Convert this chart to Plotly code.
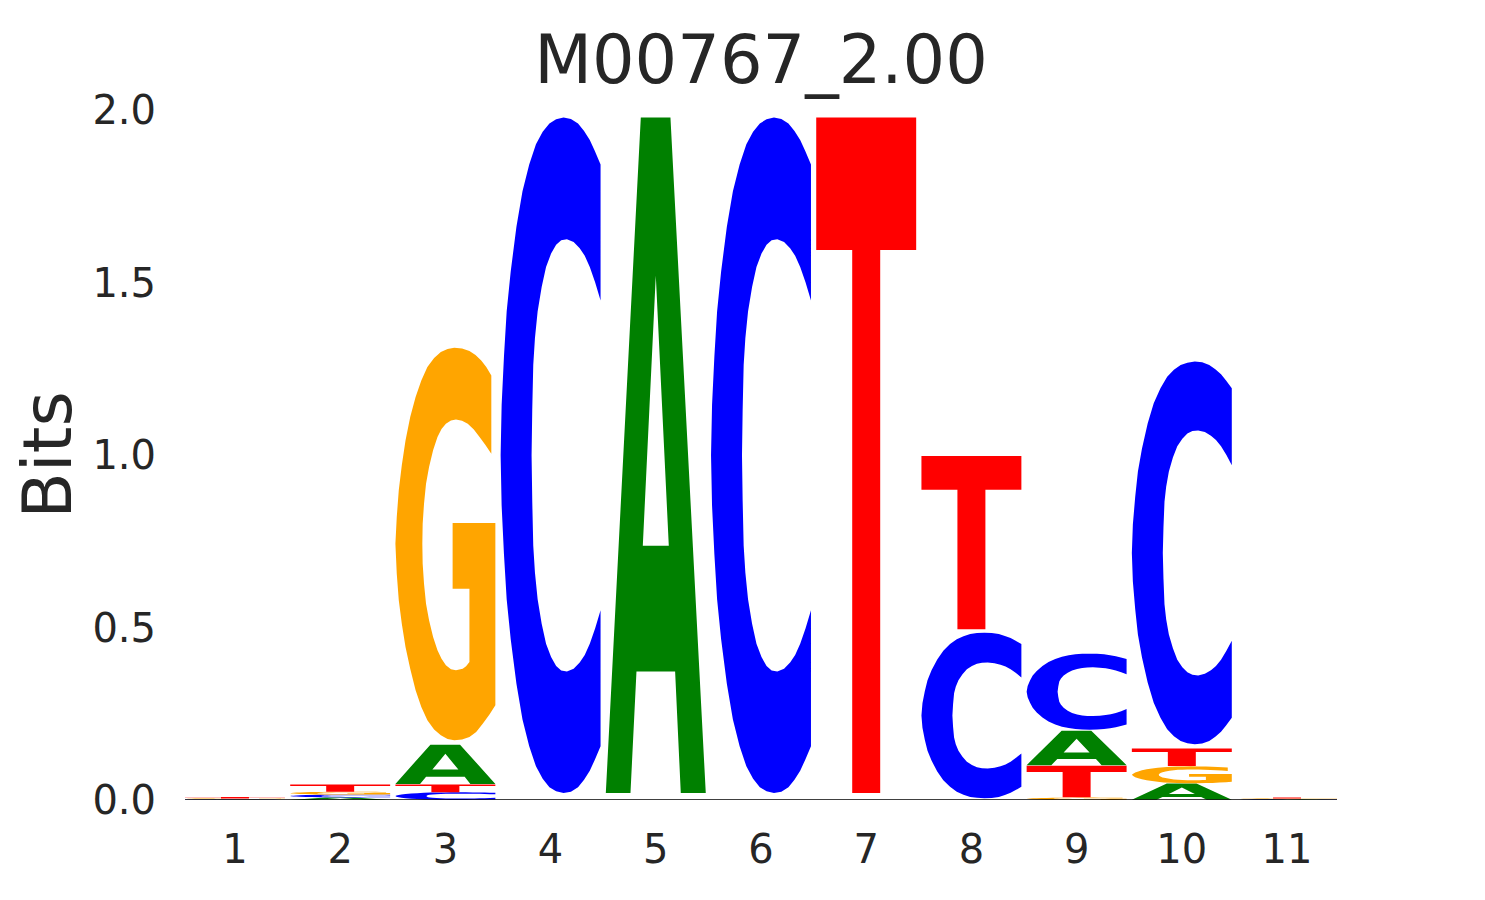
import plotly.graph_objects as go

# ---------------- data ----------------
title_text = "M00767_2.00"
positions = [1, 2, 3, 4, 5, 6, 7, 8, 9, 10, 11]
tick_labels = ["1", "2", "3", "4", "5", "6", "7", "8", "9", "10", "11"]
bits_A = [0.0010, 0.0075, 0.1160, 0.0, 1.998, 0.0, 0.0, 0.0, 0.1015, 0.048, 0.0015]
bits_C = [0.0015, 0.0080, 0.0225, 1.998, 0.0, 1.998, 0.0, 0.490, 0.2250, 1.132, 0.0015]
bits_G = [0.0020, 0.0085, 1.1610, 0.0, 0.0, 0.0, 0.0, 0.0, 0.0070, 0.050, 0.0015]
bits_T = [0.0040, 0.0210, 0.0230, 0.0, 0.0, 0.0, 1.998, 0.5125, 0.0930, 0.052, 0.0030]
y_ticks = [0.0, 0.5, 1.0, 1.5, 2.0]
y_tick_labels = ["0.0", "0.5", "1.0", "1.5", "2.0"]
x_limits = [0.525, 11.475]
y_limits = [0.0, 2.0]

colors = {"A": "#008000", "C": "#0000ff", "G": "#ffa500", "T": "#ff0000"}
glyph_width = 0.95
vpad_frac = 0.01

# ---------------- glyph outlines (unit box) ----------------
def norm(pts, x0, xspan, y0, yspan):
    return [((x - x0) / xspan, 1 - (y - y0) / yspan) for x, y in pts]

# C
c_outer_up = [(332, 130), (315, 100), (300, 75), (283, 55), (265, 38), (244, 28), (222, 25),
              (200, 29), (180, 38), (160, 57), (140, 85), (120, 130), (100, 190), (82, 270),
              (65, 370), (53, 460), (45, 560), (38, 670), (35, 782.5)]
c_inner_up = [(332, 435), (316, 395), (300, 360), (285, 335), (270, 318), (252, 304), (232, 298),
              (215, 300), (200, 310), (185, 330), (170, 360), (157, 405), (145, 460), (137, 520),
              (132, 580), (129, 680), (127, 782.5)]
c_outer_down = [(x, 1565 - y) for (x, y) in reversed(c_outer_up[:-1])]
c_inner_down = [(x, 1565 - y) for (x, y) in c_inner_up]
c_inner_back = list(reversed(c_inner_up[:-1]))
C_GLYPH = [norm(c_outer_up + c_outer_down + c_inner_down + c_inner_back, 35, 297, 25, 1515)]

# G
g_pts = [(320, 105), (305, 80), (290, 60), (273, 44), (255, 32), (233, 24), (210, 22), (190, 26),
         (170, 35), (150, 53), (130, 80), (112, 120), (95, 170), (79, 230), (65, 300), (54, 375),
         (45, 450), (39, 530), (35, 610), (39, 700), (45, 780), (54, 850), (65, 920), (79, 985),
         (95, 1050), (112, 1100), (130, 1140), (150, 1168), (170, 1185), (190, 1196), (210, 1200),
         (233, 1198), (255, 1190), (275, 1175), (295, 1150), (315, 1122), (332, 1095), (332, 548),
         (205, 548), (205, 745), (255, 745), (255, 965), (245, 978), (235, 985), (215, 990),
         (200, 987), (185, 975), (172, 955), (160, 930), (147, 890), (135, 840), (126, 790),
         (120, 730), (116, 670), (115, 610), (116, 550), (120, 490), (126, 430), (135, 380),
         (147, 330), (160, 290), (172, 266), (185, 250), (200, 240), (215, 237), (233, 241),
         (250, 250), (268, 267), (285, 290), (302, 313), (320, 340)]
G_GLYPH = [norm(g_pts, 35, 297, 22, 1178)]

# A
a_outer = [(18, 1540), (123, 25), (212, 25), (318, 1540), (243, 1540), (226, 1267), (110, 1267), (92, 1540)]
a_hole = [(168, 380), (207, 985), (129, 985)]
A_GLYPH = [norm(a_outer, 18, 300, 25, 1515), norm(a_hole, 18, 300, 25, 1515)]

# T
T_GLYPH = [[(0, 1), (1, 1), (1, 0.804), (0.64, 0.804), (0.64, 0), (0.36, 0), (0.36, 0.804), (0, 0.804)]]

GLYPHS = {"A": A_GLYPH, "C": C_GLYPH, "G": G_GLYPH, "T": T_GLYPH}


def glyph_path(letter, xc, ybot, h):
    pad = vpad_frac * h
    yb = ybot + pad
    hg = h - 2 * pad
    x0 = xc - glyph_width / 2
    parts = []
    for contour in GLYPHS[letter]:
        pts = [(x0 + u * glyph_width, yb + v * hg) for u, v in contour]
        s = "M" + " L".join(f"{x:.5f},{y:.6f}" for x, y in pts) + " Z"
        parts.append(s)
    return " ".join(parts)


shapes = []
for i, pos in enumerate(positions):
    vals = [("A", bits_A[i]), ("C", bits_C[i]), ("G", bits_G[i]), ("T", bits_T[i])]
    vals = sorted(vals, key=lambda t: t[1])
    ybot = 0.0
    for letter, h in vals:
        if h <= 0:
            continue
        shapes.append(dict(type="path", xref="x", yref="y", path=glyph_path(letter, pos, ybot, h),
                           fillcolor=colors[letter], line=dict(width=0), fillrule="evenodd",
                           layer="above"))
        ybot += h

# baseline
shapes.append(dict(type="line", xref="x", yref="y", x0=x_limits[0], x1=x_limits[1], y0=0, y1=0,
                   line=dict(color="black", width=1.5), layer="above"))

fig = go.Figure()
fig.add_trace(go.Scatter(x=positions, y=[0] * len(positions), mode="markers",
                         marker=dict(opacity=0), hoverinfo="skip", showlegend=False))

fig.update_layout(
    width=1485, height=900,
    margin=dict(l=177, r=156, t=102, b=108),
    plot_bgcolor="white", paper_bgcolor="white",
    font=dict(family="DejaVu Sans", color="#262626"),
    title=dict(text=title_text, xref="paper", x=0.5, xanchor="center",
               yref="container", y=1 - 52 / 900, yanchor="middle",
               font=dict(size=67, color="#262626", family="DejaVu Sans")),
    shapes=shapes,
    showlegend=False,
)
fig.update_xaxes(range=x_limits, tickvals=positions, ticktext=tick_labels,
                 showgrid=False, zeroline=False, showline=False,
                 ticks="outside", ticklen=14, tickcolor="rgba(0,0,0,0)",
                 tickfont=dict(size=40, color="#262626", family="DejaVu Sans"))
fig.update_yaxes(range=y_limits, tickvals=y_ticks, ticktext=y_tick_labels,
                 showgrid=False, zeroline=False, showline=False,
                 ticks="outside", ticklen=20, tickcolor="rgba(0,0,0,0)",
                 tickfont=dict(size=40, color="#262626", family="DejaVu Sans"),
                 title=dict(text="Bits", font=dict(size=68, color="#262626", family="DejaVu Sans"),
                            standoff=23))

fig.write_html("out.html")
